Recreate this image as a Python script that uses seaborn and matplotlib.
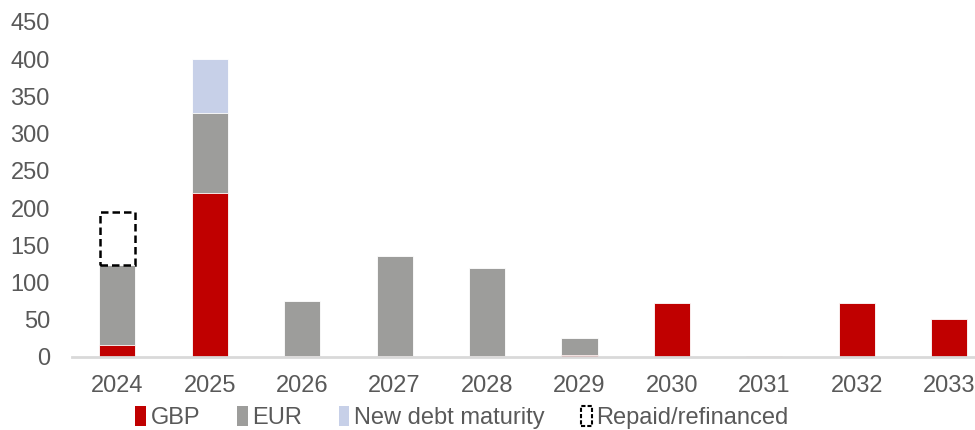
import matplotlib
matplotlib.use("Agg")
import matplotlib.pyplot as plt
from matplotlib.patches import Patch
import numpy as np
import pandas as pd
import seaborn as sns

# Debt maturity profile by year (millions)
years = ["2024", "2025", "2026", "2027", "2028", "2029", "2030", "2031", "2032", "2033"]
gbp = [16, 220, 1.5, 1.5, 1.5, 2.5, 72, 1.2, 72, 51]
eur = [108, 107, 74, 134.5, 118, 22.5, 0, 0, 0, 0]
new_debt = [0, 73, 0, 0, 0, 0, 0, 0, 0, 0]
repaid = [71, 0, 0, 0, 0, 0, 0, 0, 0, 0]
y_ticks = [0, 50, 100, 150, 200, 250, 300, 350, 400, 450]

RED = "#C00000"
GREY = "#9D9D9B"
LIGHT_BLUE = "#C7D0E8"
TEXT = "#595959"

sns.set_theme(style="white")
plt.rcParams["font.family"] = ["Liberation Sans", "DejaVu Sans"]

df = pd.DataFrame({"year": years, "gbp": gbp, "eur": eur, "new": new_debt, "repaid": repaid})
df["gbp_eur"] = df["gbp"] + df["eur"]
df["total"] = df["gbp_eur"] + df["new"]

fig = plt.figure(figsize=(9.75, 4.3), dpi=100)
ax = fig.add_axes([0.074, 0.170, 0.926, 0.779])

bar_w = 0.39
edge = dict(edgecolor="white", linewidth=0.6)
# Stacked layers drawn from the full height down
sns.barplot(data=df, x="year", y="total", color=LIGHT_BLUE, width=bar_w, saturation=1, ax=ax, **edge)
sns.barplot(data=df, x="year", y="gbp_eur", color=GREY, width=bar_w, saturation=1, ax=ax, **edge)
sns.barplot(data=df, x="year", y="gbp", color=RED, width=bar_w, saturation=1, ax=ax, **edge)

# Repaid/refinanced amounts as a dashed outline on top of the stack
x_pos = np.arange(len(years))
rep = np.array(repaid, dtype=float)
mask = rep > 0
ax.bar(x_pos[mask], rep[mask], width=bar_w - 0.02, bottom=df["total"].values[mask],
       fill=False, edgecolor="black", linestyle=(0, (3, 1.6)), linewidth=1.8)

ax.set_ylim(0, 450)
ax.set_xlim(-0.49, 9.28)
ax.set_yticks(y_ticks)
ax.set_xlabel("")
ax.set_ylabel("")
for s in ["top", "right", "left"]:
    ax.spines[s].set_visible(False)
ax.spines["bottom"].set_color("#D9D9D9")
ax.spines["bottom"].set_linewidth(2)
ax.tick_params(axis="y", length=0, pad=16, labelsize=17, labelcolor=TEXT)
ax.tick_params(axis="x", length=0, pad=13, labelsize=17, labelcolor=TEXT)

handles = [
    Patch(facecolor=RED, edgecolor="none", label="GBP"),
    Patch(facecolor=GREY, edgecolor="none", label="EUR"),
    Patch(facecolor=LIGHT_BLUE, edgecolor="none", label="New debt maturity"),
    Patch(facecolor="white", edgecolor="black", linestyle=(0, (2, 1)), linewidth=1.5, label="Repaid/refinanced"),
]
fig.legend(handles=handles, loc="center", bbox_to_anchor=(0.474, 0.028), ncol=4, frameon=False,
           fontsize=17, labelcolor=TEXT, handlelength=0.45, handleheight=0.9, handletextpad=0.2,
           columnspacing=1.55, borderpad=0)

fig.savefig("out.png", dpi=100, facecolor="white")
